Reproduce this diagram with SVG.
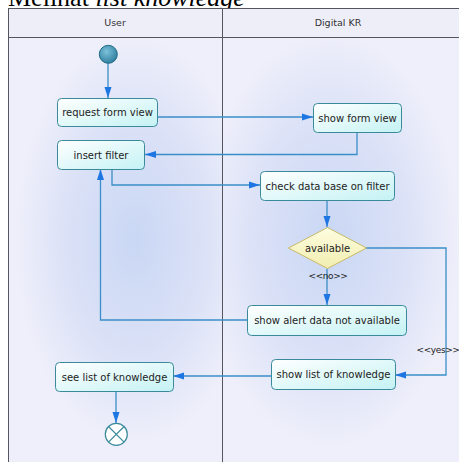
<svg xmlns="http://www.w3.org/2000/svg" width="459" height="462" viewBox="0 0 459 462">
  <defs>
    <style>
      .title { font-family: "Liberation Serif", "Times New Roman", serif; font-size: 26px; fill: #000; }
      .hdr { font-family: "DejaVu Sans", Verdana, sans-serif; font-size: 9.5px; fill: #333; text-anchor: middle; }
      .node rect { fill: url(#actFill); stroke: #3a8a9c; stroke-width: 1; }
      .lbl { font-family: "DejaVu Sans", Verdana, sans-serif; font-size: 10px; fill: #222; text-anchor: middle; }
      .guard { font-family: "DejaVu Sans", Verdana, sans-serif; font-size: 9px; letter-spacing: -0.4px; fill: #222; text-anchor: middle; }
      .flow { fill: none; stroke: #3a8ec8; stroke-width: 1.3; marker-end: url(#arrow); }
      .frame { fill: none; stroke: #55555f; stroke-width: 1; }
    </style>
    <linearGradient id="actFill" x1="0" y1="0" x2="1" y2="1">
      <stop offset="0" stop-color="#ffffff"/>
      <stop offset="1" stop-color="#c4f2f4"/>
    </linearGradient>
    <linearGradient id="decFill" x1="0" y1="0" x2="0" y2="1">
      <stop offset="0" stop-color="#fdfde0"/>
      <stop offset="1" stop-color="#f2eeb0"/>
    </linearGradient>
    <radialGradient id="startFill" cx="0.4" cy="0.35" r="0.7">
      <stop offset="0" stop-color="#7cc2da"/>
      <stop offset="1" stop-color="#2c7c9c"/>
    </radialGradient>
    <!-- soft glow in each lane body, stretched vertically -->
    <radialGradient id="laneLeft" gradientUnits="userSpaceOnUse" cx="135" cy="240" r="120" gradientTransform="translate(135 240) scale(1 1.7) translate(-135 -240)">
      <stop offset="0" stop-color="#c9d7f4"/>
      <stop offset="0.6" stop-color="#dce2f7"/>
      <stop offset="1" stop-color="#eeeffa"/>
    </radialGradient>
    <radialGradient id="laneRight" gradientUnits="userSpaceOnUse" cx="330" cy="240" r="130" gradientTransform="translate(330 240) scale(1 1.6) translate(-330 -240)">
      <stop offset="0" stop-color="#c9d7f4"/>
      <stop offset="0.6" stop-color="#dce2f7"/>
      <stop offset="1" stop-color="#eeeffa"/>
    </radialGradient>
    <marker id="arrow" markerUnits="userSpaceOnUse" markerWidth="12" markerHeight="8" refX="11" refY="4" orient="auto">
      <path d="M0,0.5 L11,4 L0,7.5 z" fill="#1e76e2"/>
    </marker>
  </defs>

  <rect x="0" y="0" width="459" height="462" fill="#ffffff"/>

  <!-- heading above the swimlanes -->
  <text class="title" x="8" y="6">Melihat <tspan font-style="italic">list knowledge</tspan></text>

  <!-- swimlanes -->
  <g id="lanes">
    <rect x="8.5" y="8.5" width="214" height="29" fill="#eeeef9"/>
    <rect x="222.5" y="8.5" width="240" height="29" fill="#eeeef9"/>
    <rect x="8.5" y="37.5" width="214" height="430" fill="url(#laneLeft)"/>
    <rect x="222.5" y="37.5" width="240" height="430" fill="url(#laneRight)"/>
    <rect class="frame" x="8.5" y="8.5" width="460" height="460"/>
    <line class="frame" x1="8.5" y1="37.5" x2="468" y2="37.5"/>
    <line class="frame" x1="222.5" y1="8.5" x2="222.5" y2="468"/>
    <text class="hdr" x="115" y="26">User</text>
    <text class="hdr" x="338" y="26">Digital KR</text>
  </g>

  <!-- control flows -->
  <g id="connectors">
    <path class="flow" d="M108,63 L108,98"/>
    <path class="flow" d="M157,117 L313,117"/>
    <path class="flow" d="M357,133 L357,154.5 L145,154.5"/>
    <path class="flow" d="M112,169 L112,185 L260,185"/>
    <path class="flow" d="M327,200 L327,227"/>
    <path class="flow" d="M327,269 L327,305"/>
    <path class="flow" d="M366,248 L446,248 L446,375 L395,375"/>
    <path class="flow" d="M247,320 L100.5,320 L100.5,169"/>
    <path class="flow" d="M271,376 L173,376"/>
    <path class="flow" d="M116,391 L116,423"/>
    <text class="guard" x="328" y="279">&lt;&lt;no&gt;&gt;</text>
    <text class="guard" x="438" y="353">&lt;&lt;yes&gt;&gt;</text>
  </g>

  <!-- nodes -->
  <g id="start">
    <circle cx="108.3" cy="54.3" r="9" fill="url(#startFill)" stroke="#1f6a86" stroke-width="1"/>
  </g>
  <g id="request-form-view" class="node">
    <rect x="57.5" y="98.5" width="100" height="28" rx="4"/>
    <text class="lbl" x="107.5" y="116">request form view</text>
  </g>
  <g id="show-form-view" class="node">
    <rect x="313.5" y="103.5" width="88" height="29" rx="4"/>
    <text class="lbl" x="357.5" y="121.5">show form view</text>
  </g>
  <g id="insert-filter" class="node">
    <rect x="57.5" y="140.5" width="87" height="29" rx="4"/>
    <text class="lbl" x="101" y="158.5">insert filter</text>
  </g>
  <g id="check-data-base" class="node">
    <rect x="260.5" y="171.5" width="134" height="29" rx="4"/>
    <text class="lbl" x="327.5" y="189.5">check data base on filter</text>
  </g>
  <g id="available">
    <polygon points="327.5,227.5 366.5,248 327.5,268.5 288.5,248" fill="url(#decFill)" stroke="#c9b968" stroke-width="1"/>
    <text class="lbl" x="327.5" y="251.5">available</text>
  </g>
  <g id="show-alert" class="node">
    <rect x="247.5" y="305.5" width="159" height="30" rx="4"/>
    <text class="lbl" x="327" y="324">show alert data not available</text>
  </g>
  <g id="show-list" class="node">
    <rect x="271.5" y="359.5" width="124" height="30" rx="4"/>
    <text class="lbl" x="333.5" y="378">show list of knowledge</text>
  </g>
  <g id="see-list" class="node">
    <rect x="55.5" y="362.5" width="118" height="29" rx="4"/>
    <text class="lbl" x="114.5" y="380.5">see list of knowledge</text>
  </g>
  <g id="end">
    <circle cx="116.3" cy="434.3" r="11" fill="#ffffff" stroke="#3a8a9c" stroke-width="1.2"/>
    <path d="M108.5,426.5 L124.1,442.1 M124.1,426.5 L108.5,442.1" stroke="#3a8a9c" stroke-width="1.2"/>
  </g>
</svg>
